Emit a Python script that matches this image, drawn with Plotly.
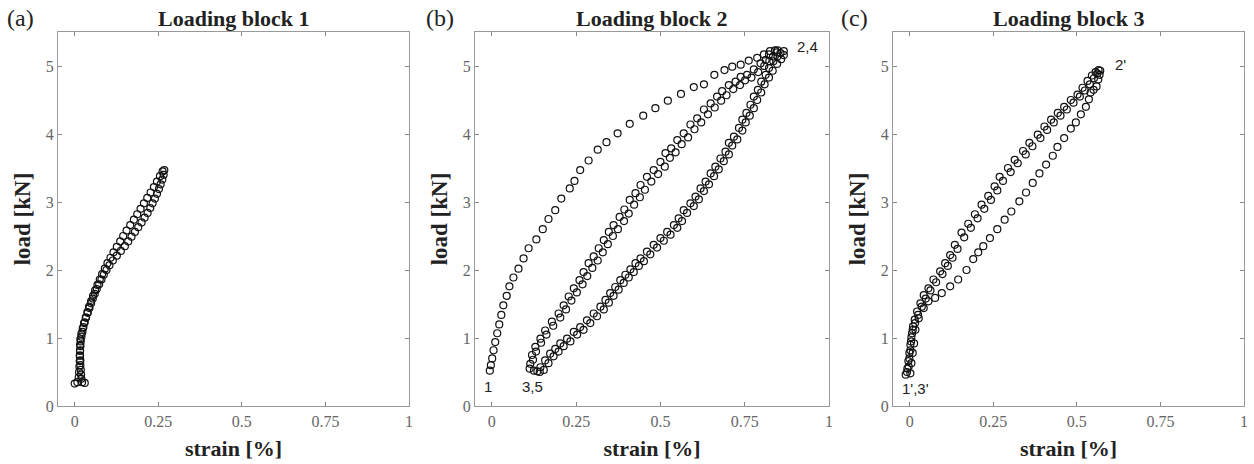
import plotly.graph_objects as go

# ---------------- data ----------------
# Panel (a): Loading block 1
a_load_strain = [0.000, 0.008, 0.012, 0.013, 0.014, 0.015, 0.015, 0.016, 0.016, 0.017, 0.020, 0.024, 0.028,
                 0.033, 0.038, 0.043, 0.049, 0.055, 0.061, 0.068, 0.075, 0.082, 0.090, 0.098, 0.107, 0.116,
                 0.126, 0.136, 0.145, 0.155, 0.166, 0.177, 0.187, 0.197, 0.207, 0.217, 0.227, 0.237, 0.246,
                 0.255, 0.263]
a_load_load = [0.33, 0.35, 0.42, 0.50, 0.58, 0.66, 0.74, 0.82, 0.90, 0.98, 1.06, 1.14, 1.22,
               1.30, 1.38, 1.46, 1.54, 1.62, 1.70, 1.78, 1.86, 1.94, 2.02, 2.10, 2.18, 2.26,
               2.34, 2.42, 2.50, 2.58, 2.66, 2.74, 2.82, 2.90, 2.98, 3.06, 3.14, 3.22, 3.30,
               3.38, 3.45]
a_unload_strain = [0.268, 0.266, 0.262, 0.257, 0.252, 0.246, 0.240, 0.233, 0.226, 0.218, 0.209, 0.200,
                   0.190, 0.180, 0.170, 0.160, 0.150, 0.138, 0.126, 0.114, 0.104, 0.095, 0.087, 0.080,
                   0.073, 0.066, 0.060, 0.054, 0.049, 0.044, 0.039, 0.034, 0.030, 0.026, 0.023, 0.020,
                   0.018, 0.017, 0.016, 0.016, 0.017, 0.017, 0.018, 0.019, 0.020, 0.022, 0.030]
a_unload_load = [3.47, 3.40, 3.33, 3.26, 3.19, 3.12, 3.05, 2.98, 2.91, 2.84, 2.77, 2.70,
                 2.63, 2.56, 2.49, 2.42, 2.35, 2.28, 2.21, 2.14, 2.07, 2.00, 1.93, 1.86,
                 1.79, 1.72, 1.65, 1.58, 1.51, 1.44, 1.37, 1.30, 1.23, 1.16, 1.09, 1.02,
                 0.95, 0.88, 0.81, 0.74, 0.67, 0.60, 0.53, 0.46, 0.40, 0.35, 0.34]

# Panel (b): Loading block 2
b_load_strain = [-0.006, -0.003, 0.001, 0.005, 0.010, 0.016, 0.022, 0.028, 0.034, 0.044, 0.052, 0.064,
                 0.079, 0.094, 0.109, 0.132, 0.151, 0.168, 0.188, 0.206, 0.231, 0.245, 0.262, 0.287,
                 0.314, 0.340, 0.373, 0.409, 0.449, 0.485, 0.522, 0.561, 0.599, 0.629, 0.660, 0.690,
                 0.713, 0.738, 0.762, 0.787, 0.807, 0.825, 0.847, 0.866]
b_load_load = [0.52, 0.60, 0.70, 0.82, 0.94, 1.07, 1.20, 1.34, 1.48, 1.62, 1.76, 1.89,
               2.02, 2.17, 2.32, 2.45, 2.60, 2.75, 2.88, 3.05, 3.20, 3.31, 3.47, 3.61,
               3.77, 3.88, 4.01, 4.15, 4.27, 4.38, 4.49, 4.59, 4.69, 4.73, 4.87, 4.94,
               4.99, 5.02, 5.08, 5.12, 5.17, 5.22, 5.23, 5.22]
b_unload1_strain = [0.856, 0.847, 0.835, 0.822, 0.812, 0.799, 0.789, 0.777, 0.767, 0.755, 0.743, 0.733,
                    0.718, 0.703, 0.693, 0.678, 0.663, 0.649, 0.634, 0.619, 0.604, 0.589, 0.569, 0.554,
                    0.540, 0.520, 0.500, 0.480, 0.460, 0.441, 0.426, 0.411, 0.396, 0.381, 0.366, 0.351,
                    0.337, 0.322, 0.302, 0.282, 0.262, 0.243, 0.223, 0.203, 0.188, 0.173, 0.158, 0.144,
                    0.135, 0.125]
b_unload1_load = [5.19, 5.14, 5.07, 4.97, 4.87, 4.77, 4.65, 4.55, 4.43, 4.31, 4.21, 4.09,
                  3.96, 3.87, 3.74, 3.64, 3.52, 3.42, 3.30, 3.20, 3.08, 2.98, 2.88, 2.76,
                  2.66, 2.56, 2.47, 2.37, 2.27, 2.17, 2.10, 2.01, 1.93, 1.85, 1.75, 1.66,
                  1.56, 1.46, 1.36, 1.26, 1.16, 1.09, 0.99, 0.92, 0.84, 0.77, 0.67, 0.57,
                  0.51, 0.52]
b_reload1_strain = [0.114, 0.119, 0.129, 0.144, 0.158, 0.178, 0.198, 0.213, 0.228, 0.243, 0.260, 0.272,
                    0.287, 0.302, 0.317, 0.332, 0.347, 0.361, 0.379, 0.393, 0.409, 0.426, 0.441, 0.460,
                    0.480, 0.500, 0.515, 0.532, 0.550, 0.569, 0.589, 0.609, 0.629, 0.649, 0.668, 0.683,
                    0.703, 0.723, 0.738, 0.757, 0.777, 0.797, 0.812, 0.822, 0.840]
b_reload1_load = [0.62, 0.75, 0.87, 0.99, 1.11, 1.24, 1.36, 1.48, 1.61, 1.73, 1.85, 1.97,
                  2.10, 2.20, 2.32, 2.44, 2.56, 2.66, 2.78, 2.89, 3.03, 3.13, 3.25, 3.37,
                  3.47, 3.59, 3.72, 3.79, 3.91, 4.01, 4.14, 4.23, 4.36, 4.45, 4.55, 4.63,
                  4.72, 4.77, 4.84, 4.87, 4.95, 5.04, 5.09, 5.17, 5.23]
b_unload2_strain = [0.866, 0.858, 0.846, 0.833, 0.822, 0.809, 0.799, 0.787, 0.777, 0.765, 0.753, 0.743,
                    0.728, 0.713, 0.703, 0.688, 0.673, 0.659, 0.644, 0.629, 0.614, 0.599, 0.579, 0.564,
                    0.550, 0.530, 0.510, 0.490, 0.470, 0.451, 0.436, 0.421, 0.406, 0.391, 0.376, 0.361,
                    0.347, 0.332, 0.312, 0.292, 0.272, 0.253, 0.233, 0.213, 0.198, 0.183, 0.168, 0.154,
                    0.142]
b_unload2_load = [5.16, 5.10, 5.03, 4.93, 4.83, 4.73, 4.61, 4.50, 4.38, 4.27, 4.17, 4.05,
                  3.92, 3.83, 3.70, 3.60, 3.48, 3.38, 3.26, 3.16, 3.04, 2.94, 2.84, 2.72,
                  2.62, 2.52, 2.43, 2.33, 2.23, 2.13, 2.06, 1.97, 1.89, 1.81, 1.71, 1.62,
                  1.52, 1.42, 1.32, 1.22, 1.12, 1.05, 0.95, 0.88, 0.80, 0.73, 0.63, 0.53,
                  0.50]
b_reload2_strain = [0.112, 0.122, 0.131, 0.146, 0.162, 0.182, 0.203, 0.220, 0.236, 0.252, 0.269, 0.283,
                    0.298, 0.314, 0.329, 0.344, 0.359, 0.374, 0.392, 0.406, 0.422, 0.439, 0.454, 0.473,
                    0.493, 0.513, 0.528, 0.545, 0.563, 0.582, 0.601, 0.621, 0.641, 0.661, 0.680, 0.696,
                    0.716, 0.736, 0.751, 0.770, 0.790, 0.808, 0.823, 0.834, 0.845]
b_reload2_load = [0.55, 0.68, 0.80, 0.93, 1.05, 1.18, 1.30, 1.42, 1.55, 1.67, 1.79, 1.91,
                  2.03, 2.14, 2.26, 2.38, 2.50, 2.60, 2.72, 2.83, 2.96, 3.07, 3.18, 3.30,
                  3.41, 3.52, 3.65, 3.73, 3.85, 3.95, 4.07, 4.17, 4.29, 4.39, 4.49, 4.57,
                  4.66, 4.72, 4.79, 4.83, 4.91, 5.00, 5.07, 5.14, 5.20]

# Panel (c): Loading block 3
c_load1_strain = [-0.008, -0.003, -0.001, 0.002, 0.004, 0.007, 0.010, 0.015, 0.022, 0.032, 0.042, 0.056,
                  0.071, 0.091, 0.106, 0.121, 0.135, 0.155, 0.175, 0.195, 0.215, 0.235, 0.254, 0.269,
                  0.294, 0.314, 0.339, 0.358, 0.383, 0.403, 0.423, 0.443, 0.462, 0.482, 0.502, 0.517,
                  0.532, 0.545, 0.556, 0.565]
c_load1_load = [0.50, 0.58, 0.70, 0.82, 0.95, 1.07, 1.17, 1.27, 1.39, 1.51, 1.63, 1.73,
                1.86, 1.98, 2.10, 2.22, 2.37, 2.55, 2.68, 2.82, 2.96, 3.09, 3.23, 3.37,
                3.50, 3.62, 3.75, 3.87, 3.99, 4.11, 4.21, 4.31, 4.40, 4.50, 4.58, 4.68,
                4.78, 4.86, 4.91, 4.94]
c_unload_strain = [0.570, 0.568, 0.564, 0.559, 0.550, 0.541, 0.536, 0.527, 0.512, 0.497, 0.482, 0.462,
                   0.442, 0.428, 0.408, 0.388, 0.368, 0.348, 0.328, 0.304, 0.284, 0.262, 0.240, 0.220,
                   0.205, 0.190, 0.170, 0.145, 0.121, 0.096, 0.076, 0.056, 0.042, 0.027, 0.017, 0.013,
                   0.009, 0.005, 0.002]
c_unload_load = [4.93, 4.87, 4.80, 4.70, 4.65, 4.61, 4.51, 4.40, 4.29, 4.17, 4.08, 3.94,
                 3.81, 3.68, 3.55, 3.42, 3.28, 3.14, 3.01, 2.86, 2.74, 2.60, 2.47, 2.35,
                 2.26, 2.16, 2.00, 1.86, 1.76, 1.66, 1.59, 1.54, 1.44, 1.29, 1.12, 0.92,
                 0.78, 0.63, 0.48]
c_load2_strain = [-0.012, -0.007, -0.004, -0.001, 0.002, 0.005, 0.009, 0.016, 0.025, 0.036, 0.048, 0.062,
                  0.079, 0.098, 0.114, 0.128, 0.143, 0.163, 0.183, 0.203, 0.223, 0.243, 0.262, 0.279,
                  0.302, 0.323, 0.347, 0.367, 0.391, 0.411, 0.431, 0.451, 0.470, 0.490, 0.509, 0.524,
                  0.539, 0.551, 0.561]
c_load2_load = [0.46, 0.55, 0.66, 0.78, 0.90, 1.01, 1.12, 1.22, 1.34, 1.46, 1.58, 1.70,
                1.82, 1.94, 2.06, 2.18, 2.31, 2.48, 2.62, 2.76, 2.90, 3.03, 3.17, 3.31,
                3.44, 3.57, 3.70, 3.82, 3.94, 4.06, 4.17, 4.27, 4.36, 4.46, 4.55, 4.64,
                4.73, 4.82, 4.89]

panel_titles = ["Loading block 1", "Loading block 2", "Loading block 3"]
panel_tags = ["(a)", "(b)", "(c)"]
x_ticks = [0, 0.25, 0.5, 0.75, 1]
x_tick_labels = ["0", "0.25", "0.5", "0.75", "1"]
y_ticks = [0, 1, 2, 3, 4, 5]

# point labels: (panel index, text, strain, load)
point_labels = [
    (1, "1", -0.01, 0.28),
    (1, "3,5", 0.12, 0.28),
    (1, "2,4", 0.935, 5.29),
    (2, "1',3'", 0.018, 0.26),
    (2, "2'", 0.63, 5.02),
]

# ---------------- figure ----------------
SERIF = "Liberation Serif"
series = [
    (0, a_load_strain, a_load_load), (0, a_unload_strain, a_unload_load),
    (1, b_load_strain, b_load_load), (1, b_unload1_strain, b_unload1_load),
    (1, b_reload1_strain, b_reload1_load), (1, b_unload2_strain, b_unload2_load),
    (1, b_reload2_strain, b_reload2_load),
    (2, c_load1_strain, c_load1_load), (2, c_unload_strain, c_unload_load),
    (2, c_load2_strain, c_load2_load),
]

fig = go.Figure()
axis_names = [("x", "y"), ("x2", "y2"), ("x3", "y3")]
for p, xs, ys in series:
    xa, ya = axis_names[p]
    fig.add_trace(go.Scatter(
        x=xs, y=ys, xaxis=xa, yaxis=ya, mode="markers",
        marker=dict(symbol="circle-open", size=7, color="#111111", line=dict(width=1.2)),
        showlegend=False, hoverinfo="x+y"))

W, H = 1254, 464
ML, MR, MT, MB = 58, 10, 32, 58
PW = W - ML - MR
PH = H - MT - MB
px_domains = [(58, 409), (475, 829), (893, 1244)]
domains = [((a - ML) / PW, (b - ML) / PW) for a, b in px_domains]

layout = dict(
    width=W, height=H, margin=dict(l=ML, r=MR, t=MT, b=MB, autoexpand=False),
    paper_bgcolor="white", plot_bgcolor="white",
    font=dict(family=SERIF, color="#222222"),
)

annotations = []
title_y = (H - MB - 18) / PH
for i in range(3):
    sfx = "" if i == 0 else str(i + 1)
    d0, d1 = domains[i]
    layout["xaxis" + sfx] = dict(
        domain=[max(0, d0), min(1, d1)], range=[-0.05, 1.0],
        tickvals=x_ticks, ticktext=x_tick_labels,
        ticks="inside", ticklen=4, tickcolor="#888888", tickwidth=1,
        showline=True, linecolor="#999999", linewidth=1, mirror="ticks",
        showgrid=False, zeroline=False, automargin=False,
        tickfont=dict(family=SERIF, size=16, color="#666666"),
        ticklabelstandoff=1,
        title=dict(text="<b>strain [%]</b>", font=dict(family=SERIF, size=22, color="#222222"), standoff=11),
        anchor="y" + sfx,
    )
    layout["yaxis" + sfx] = dict(
        domain=[0, 1], range=[0, 5.5],
        tickvals=y_ticks,
        ticks="inside", ticklen=4, tickcolor="#888888", tickwidth=1,
        showline=True, linecolor="#999999", linewidth=1, mirror="ticks",
        showgrid=False, zeroline=False, automargin=False,
        tickfont=dict(family=SERIF, size=16, color="#666666"),
        ticklabelstandoff=0,
        title=dict(text="<b>load [kN]</b>", font=dict(family=SERIF, size=23, color="#222222"), standoff=8),
        anchor="x" + sfx,
    )
    cx = (px_domains[i][0] + px_domains[i][1]) / 2
    annotations.append(dict(
        xref="paper", yref="paper", x=(cx - ML) / PW, y=title_y,
        text="<b>" + panel_titles[i] + "</b>", showarrow=False,
        font=dict(family=SERIF, size=22, color="#222222"), xanchor="center", yanchor="middle"))
    tag_x = [20, 440, 854][i]
    annotations.append(dict(
        xref="paper", yref="paper", x=(tag_x - ML) / PW, y=title_y,
        text=panel_tags[i], showarrow=False,
        font=dict(family=SERIF, size=24, color="#222222"), xanchor="center", yanchor="middle"))

for p, txt, sx, ly in point_labels:
    xa, ya = axis_names[p]
    annotations.append(dict(
        xref=xa, yref=ya, x=sx, y=ly, text=txt, showarrow=False,
        font=dict(family="Liberation Sans", size=15, color="#222222"),
        xanchor="center", yanchor="middle"))

layout["annotations"] = annotations
fig.update_layout(**layout)
# remove the browser's default 8 px page margin so the figure fills the window exactly
fig.write_html("out.html", config={"displayModeBar": False},
               post_script="document.body.style.margin='0';document.body.style.overflow='hidden';")
